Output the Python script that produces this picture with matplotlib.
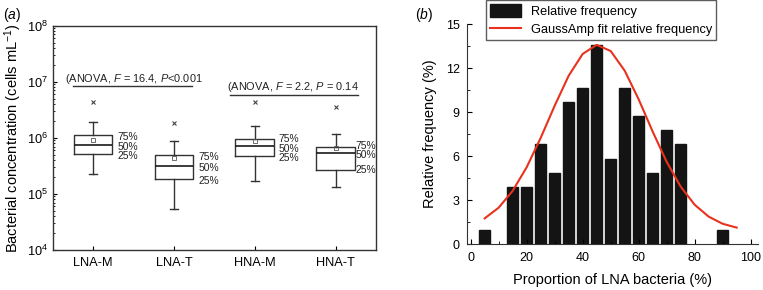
import matplotlib
matplotlib.use("Agg")
import matplotlib.pyplot as plt
from matplotlib.ticker import MultipleLocator

plt.rcParams['font.family'] = ['Liberation Sans', 'DejaVu Sans']
plt.rcParams['mathtext.fontset'] = 'custom'
plt.rcParams['mathtext.rm'] = 'Liberation Sans'
plt.rcParams['mathtext.it'] = 'Liberation Sans:italic'
plt.rcParams['mathtext.bf'] = 'Liberation Sans:bold'

# (a) box statistics, cells per mL
groups = ['LNA-M', 'LNA-T', 'HNA-M', 'HNA-T']
whisker_low = [2.24e5, 5.4e4, 1.72e5, 1.33e5]
q1 = [5.1e5, 1.82e5, 4.8e5, 2.7e5]
median = [7.4e5, 3.1e5, 7.2e5, 5.4e5]
q3 = [1.12e6, 5.0e5, 9.6e5, 6.9e5]
whisker_high = [1.94e6, 8.7e5, 1.64e6, 1.17e6]
means = [9.1e5, 4.4e5, 8.7e5, 6.7e5]
maxima = [4.4e6, 1.87e6, 4.4e6, 3.5e6]
anova_labels = [r'(ANOVA, $F$ = 16.4, $P$<0.001', r'(ANOVA, $F$ = 2.2, $P$ = 0.14']

# (b) histogram of LNA proportion and the GaussAmp fit
bin_centers = [5, 15, 20, 25, 30, 35, 40, 45, 50, 55, 60, 65, 70, 75, 90]
rel_freq = [0.97, 3.88, 3.88, 6.80, 4.85, 9.71, 10.68, 13.59, 5.83, 10.68,
            8.74, 4.85, 7.77, 6.80, 0.97]
fit_x = [5, 10, 15, 20, 25, 30, 35, 40, 45, 50, 55, 60, 65, 70, 75, 80, 85, 90, 95]
fit_y = [1.75, 2.48, 3.63, 5.24, 7.24, 9.44, 11.49, 12.98, 13.60, 13.18, 11.84,
         9.88, 7.68, 5.61, 3.92, 2.68, 1.87, 1.38, 1.12]

fig = plt.figure(figsize=(7.63, 2.90), dpi=100)

# ---------------- panel (a)
ax = fig.add_axes([0.069, 0.138, 0.4238, 0.7735])
ax.set_yscale('log')
pos = [1, 2, 3, 4]
stats = []
for i in range(len(groups)):
    stats.append(dict(med=median[i], q1=q1[i], q3=q3[i], whislo=whisker_low[i],
                      whishi=whisker_high[i], mean=means[i], fliers=[maxima[i]]))
edge = '#333333'
ax.bxp(stats, positions=pos, widths=0.48, showmeans=True, capwidths=0.1,
       manage_ticks=False,
       boxprops=dict(color=edge, lw=1.0),
       medianprops=dict(color='#1a1a1a', lw=1.2),
       whiskerprops=dict(color=edge, lw=1.0),
       capprops=dict(color=edge, lw=1.0),
       meanprops=dict(marker='s', markersize=2.6, markerfacecolor='none',
                      markeredgecolor='#555555', markeredgewidth=0.6),
       flierprops=dict(marker='x', markersize=3, markeredgecolor='#444444',
                       markeredgewidth=0.8))

# quartile labels next to each box (small nudges keep them readable)
dx = [3.5, 4.0, 3.3, 0.3]
dy = [[-1.5, -1.0, -1.3], [-1.6, -1.3, -1.0], [-0.3, -2.3, -1.7], [0.6, -1.8, -0.3]]
for i, p in enumerate(pos):
    for k, (val, lab) in enumerate([(q3[i], '75%'), (median[i], '50%'), (q1[i], '25%')]):
        ax.annotate(lab, (p + 0.24, val), xytext=(dx[i], dy[i][k]), textcoords='offset points',
                    ha='left', va='center', fontsize=7.4, color='#222222')

# ANOVA brackets
ax.plot([0.75, 2.23], [8.5e6, 8.5e6], color='#333333', lw=1.0)
ax.plot([2.69, 4.28], [5.8e6, 5.8e6], color='#333333', lw=1.0)
ax.text(1.50, 1.12e7, anova_labels[0], ha='center', va='center', fontsize=7.9, color='#222222')
ax.text(3.47, 8.05e6, anova_labels[1], ha='center', va='center', fontsize=7.9, color='#222222')

ax.set_xlim(0.5, 4.5)
ax.set_ylim(1e4, 1e8)
ax.set_xticks(pos)
ax.set_xticklabels(groups)
ax.tick_params(axis='x', direction='in', length=3, top=False, labelsize=9.2, pad=5)
ax.tick_params(axis='y', which='major', direction='in', length=3, right=False, labelsize=9.2)
ax.tick_params(axis='y', which='minor', direction='in', length=1.5, right=False)
for s in ax.spines.values():
    s.set_color('#333333')
    s.set_linewidth(1.0)
ax.set_ylabel('Bacterial concentration (cells mL$^{-1}$)', fontsize=10.5, labelpad=2)
fig.text(0.004, 0.948, r'($\mathit{a}$)', fontsize=10, ha='left', va='center')

# ---------------- panel (b)
bx = fig.add_axes([0.6117, 0.1586, 0.3817, 0.7574])
bars = bx.bar(bin_centers, rel_freq, width=4.0, color='#141414', edgecolor='#141414',
              label='Relative frequency')
fit_line, = bx.plot(fit_x, fit_y, color='#e8321e', lw=1.5, label='GaussAmp fit relative frequency')
bx.set_xlim(-1.4, 102.6)
bx.set_ylim(0, 15)
bx.xaxis.set_major_locator(MultipleLocator(20))
bx.xaxis.set_minor_locator(MultipleLocator(10))
bx.yaxis.set_major_locator(MultipleLocator(3))
bx.yaxis.set_minor_locator(MultipleLocator(1.5))
bx.tick_params(which='major', direction='in', length=3.5, labelsize=9)
bx.tick_params(axis='x', which='major', pad=6)
bx.tick_params(axis='y', which='major', pad=5)
bx.tick_params(which='minor', direction='in', length=2)
bx.spines['top'].set_visible(False)
bx.spines['right'].set_visible(False)
for s in ['left', 'bottom']:
    bx.spines[s].set_color('#333333')
bx.set_xlabel('Proportion of LNA bacteria (%)', fontsize=10.5, labelpad=6)
bx.set_ylabel('Relative frequency (%)', fontsize=10.5, labelpad=6)
fig.text(0.544, 0.948, r'($\mathit{b}$)', fontsize=10, ha='left', va='center')

leg = fig.legend([bars, fit_line], ['Relative frequency', 'GaussAmp fit relative frequency'],
                 loc='upper left', bbox_to_anchor=(0.637, 1.0), frameon=True, fancybox=False,
                 edgecolor='#333333', fontsize=9.2, handlelength=2.4, handleheight=1.2,
                 borderaxespad=0, borderpad=0.3, labelspacing=0.35, handletextpad=0.8)
leg.get_frame().set_linewidth(1.0)

fig.savefig('out.png', dpi=100)
